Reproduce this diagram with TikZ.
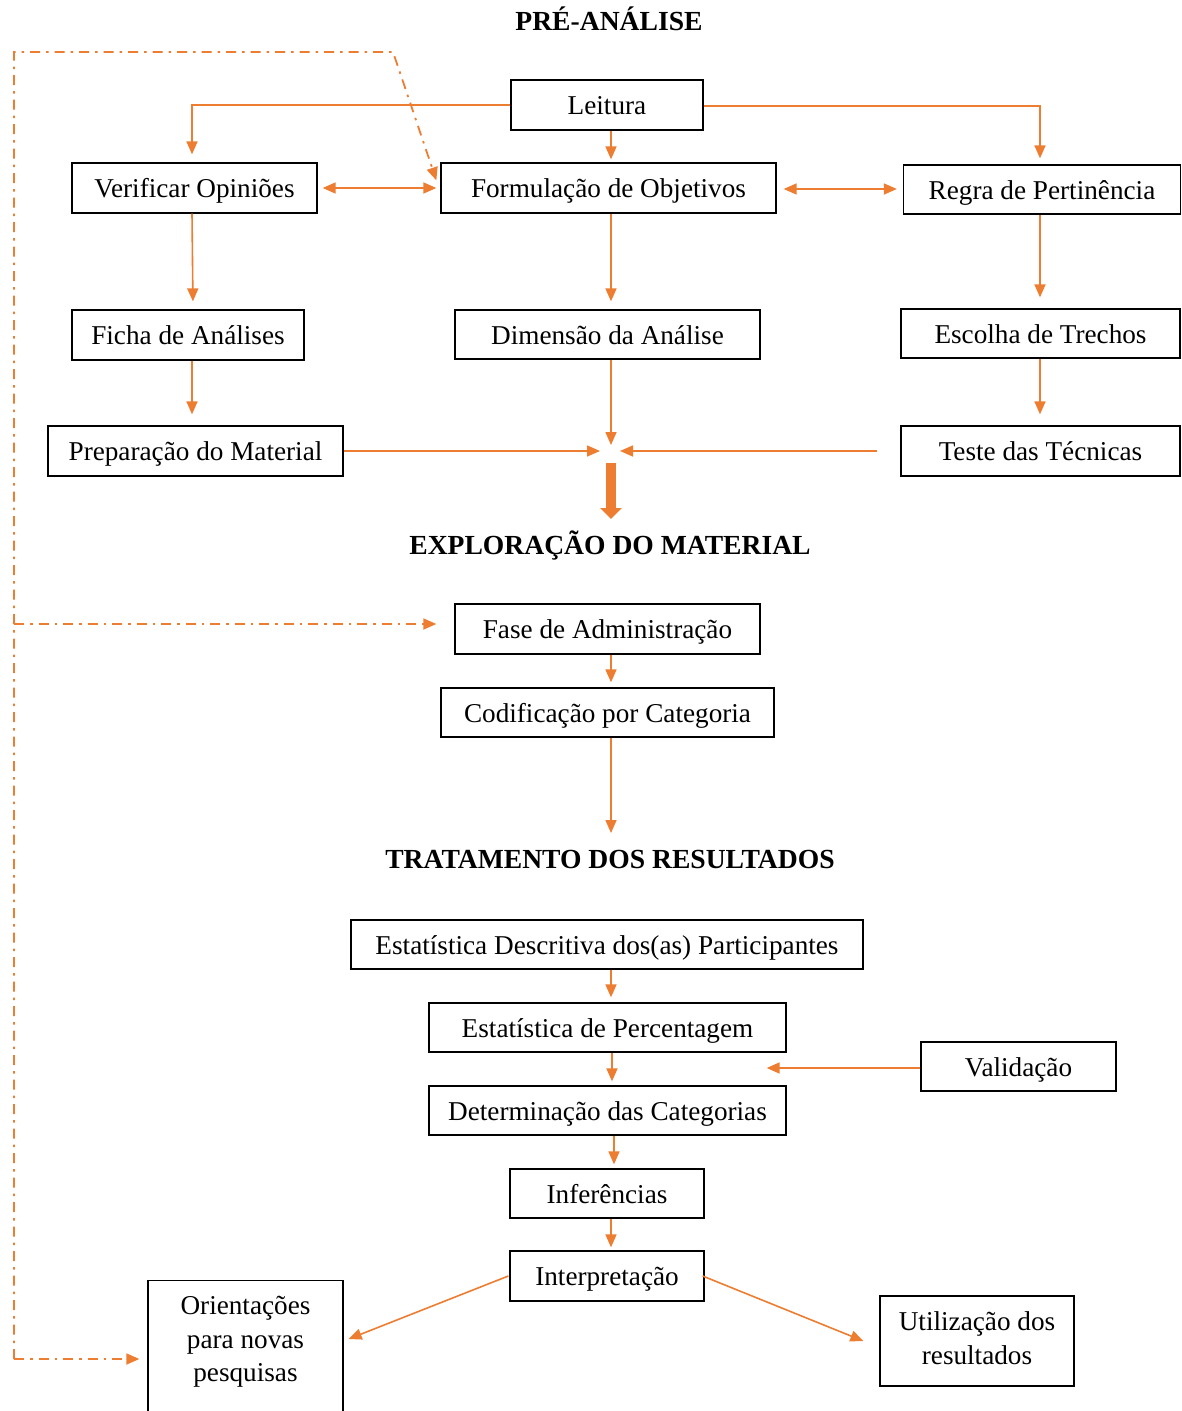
\documentclass[tikz,border=0pt]{standalone}
\usepackage{fontspec}
\setmainfont{Liberation Serif}
\usetikzlibrary{arrows.meta,calc}
\definecolor{orng}{HTML}{ED7D31}
\begin{document}
\begin{tikzpicture}[x=1pt,y=-1pt,
  every node/.style={font=\fontsize{27.2}{33.5}\selectfont},
  box/.style={draw=black, line width=1.3pt, minimum height=50pt, inner sep=0pt,
    text height=21pt, text depth=2pt},
  frame/.style={draw=black, line width=1.3pt, inner sep=0pt},
  label text/.style={align=center, inner sep=0pt},
  ttl/.style={anchor=base, font=\fontsize{27.6}{32}\selectfont\bfseries},
  arr/.style={draw=orng, line width=1.6pt, -{Triangle[length=13pt,width=11pt]}},
  arrb/.style={draw=orng, line width=1.6pt, {Triangle[length=13pt,width=11pt]}-{Triangle[length=13pt,width=11pt]}},
  fat/.style={draw=orng, line width=10pt, -{Triangle[length=11pt,width=21pt]}},
  dd/.style={draw=orng, line width=1.8pt, dash pattern=on 10pt off 6pt on 2.5pt off 6pt},
  ddarr/.style={dd, -{Triangle[length=13pt,width=11pt]}}]
\useasboundingbox (0,0) rectangle (1182,1411);
\clip (0,0) rectangle (1182,1411);

% section titles
\node[ttl] (pre) at (609,30) {PRÉ-ANÁLISE};
\node[ttl] (expl) at (610,554) {EXPLORAÇÃO DO MATERIAL};
\node[ttl] (trat) at (610,868) {TRATAMENTO DOS RESULTADOS};

% pre-analysis stage
\node[box, minimum width=192pt] (leit) at (607,105) {Leitura};
\node[box, minimum width=245pt] (verif) at (194.5,188) {Verificar Opiniões};
\node[box, minimum width=335pt] (form) at (608.5,188) {Formulação de Objetivos};
\node[box, minimum width=277pt, minimum height=49pt] (regra) at (1042,189.5) {Regra de Pertinência};
\node[box, minimum width=232pt] (ficha) at (188,335) {Ficha de Análises};
\node[box, minimum width=305pt, minimum height=49pt] (dim) at (607.5,334.5) {Dimensão da Análise};
\node[box, minimum width=279pt, minimum height=49pt] (esc) at (1040.5,333.5) {Escolha de Trechos};
\node[box, minimum width=295pt] (prep) at (195.5,451) {Preparação do Material};
\node[box, minimum width=279pt] (teste) at (1040.5,451) {Teste das Técnicas};

% exploration stage
\node[box, minimum width=305pt] (fase) at (607.5,629) {Fase de Administração};
\node[box, minimum width=333pt, minimum height=49pt] (cod) at (607.5,712.5) {Codificação por Categoria};

% results stage
\node[box, minimum width=512pt, minimum height=49pt] (desc) at (607,944.5) {Estatística Descritiva dos(as) Participantes};
\node[box, minimum width=357pt, minimum height=49pt] (perc) at (607.5,1027.5) {Estatística de Percentagem};
\node[box, minimum width=195pt, minimum height=49pt] (valid) at (1018.5,1066.5) {Validação};
\node[box, minimum width=357pt, minimum height=49pt] (det) at (607.5,1110.5) {Determinação das Categorias};
\node[box, minimum width=194pt, minimum height=49pt] (inf) at (607,1193.5) {Inferências};
\node[box, minimum width=194pt] (interp) at (607,1276) {Interpretação};
\node[frame, minimum width=195pt, minimum height=170pt, anchor=north] (ori) at (245.5,1280) {};
\node[label text] (oritxt) at (245.5,1342) {Orientações\\para novas\\pesquisas};
\node[frame, minimum width=194pt, minimum height=90pt] (util) at (977,1341) {};
\node[label text] (utiltxt) at (977,1338) {Utilização dos\\resultados};

% junction points
\coordinate (meet) at (611,451);
\coordinate (fatend) at (611,519);
\coordinate (codend) at (611,833);
\coordinate (ddtop) at (14,52);
\coordinate (ddbend) at (393,52);
\coordinate (ddmid) at (14,624);
\coordinate (ddbot) at (14,1359);

% pre-analysis connectors
\draw[arr, shorten >=8pt] (leit.west) -| ([xshift=-2.5pt]verif.north);
\draw[arr, shorten >=6pt] ([yshift=-1pt]leit.east) -| ([xshift=-2pt]regra.north);
\draw[arr, shorten >=3pt] ([xshift=4pt]leit.south) -- ([xshift=2.5pt]form.north);
\draw[arrb, shorten <=5pt, shorten >=4pt] (verif.east) -- (form.west);
\draw[arrb, shorten <=7pt, shorten >=6pt] ([yshift=-1pt]form.east) -- ([yshift=0.5pt]regra.west);
\draw[arr, shorten >=8pt] ([xshift=-2.5pt]verif.south) -- ([xshift=5pt]ficha.north);
\draw[arr, shorten >=8pt] ([xshift=2.5pt]form.south) -- ([xshift=3.5pt]dim.north);
\draw[arr, shorten >=11pt] ([xshift=-2pt]regra.south) -- ([xshift=-0.5pt]esc.north);
\draw[arr, shorten >=11pt] ([xshift=4pt]ficha.south) -- ([xshift=-3.5pt]prep.north);
\draw[arr, shorten >=11pt] ([xshift=-0.5pt]esc.south) -- ([xshift=-0.5pt]teste.north);
\draw[arr, shorten >=6pt] ([xshift=3.5pt]dim.south) -- (meet);
\draw[arr, shorten >=11pt] (prep.east) -- (meet);
\draw[arr, shorten <=23pt, shorten >=9pt] (teste.west) -- (meet);
\draw[fat] ([yshift=-12pt]meet) -- (fatend);

% exploration connectors
\draw[arr, shorten >=5pt] ([xshift=3.5pt]fase.south) -- ([xshift=3.5pt]cod.north);
\draw[arr] ([xshift=3.5pt]cod.south) -- (codend);

% results connectors
\draw[arr, shorten >=5pt] ([xshift=4pt]desc.south) -- ([xshift=3.5pt]perc.north);
\draw[arr, shorten >=4pt] ([xshift=4.5pt]perc.south) -- ([xshift=4.5pt]det.north);
\draw[arr, shorten >=-20pt] ([yshift=-1.5pt]valid.west) -- ([yshift=-1.5pt]perc.east |- valid.west);
\draw[arr, shorten >=4pt] ([xshift=6.5pt]det.south) -- ([xshift=7pt]inf.north);
\draw[arr, shorten >=3pt] ([xshift=4pt]inf.south) -- ([xshift=4pt]interp.north);
\draw[arr] ([xshift=-1pt]interp.west) -- ([shift={(5,59)}]ori.north east);
\draw[arr] ([shift={(-2,0)}]interp.east) -- ([xshift=-16pt]util.west);

% dash-dot feedback paths
\draw[ddarr] (ddbot) -- (ddtop) -- (ddbend) -- ([shift={(-4,18)}]form.north west);
\draw[ddarr] (ddmid) -- ([xshift=-18pt, yshift=5pt]fase.west);
\draw[ddarr] (ddbot) -- ([shift={(-8,79)}]ori.north west);
\end{tikzpicture}
\end{document}
